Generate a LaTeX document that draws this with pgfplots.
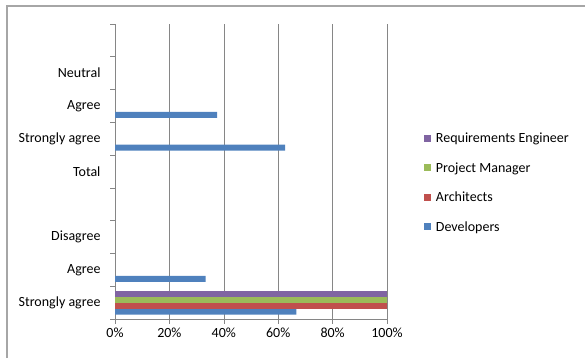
\documentclass[border=0pt]{standalone}
\usepackage{pgfplots}
\pgfplotsset{compat=1.18}
\usepackage{fontspec}
\setmainfont{Carlito}
\definecolor{devblue}{HTML}{4F81BD}
\definecolor{archred}{HTML}{C0504D}
\definecolor{pmgreen}{HTML}{9BBB59}
\definecolor{repurple}{HTML}{8064A2}
\definecolor{gridgrey}{HTML}{868686}
\definecolor{framegrey}{HTML}{A6A6A6}
\begin{document}
\begin{tikzpicture}[x=1pt,y=1pt]
\useasboundingbox (0,0) rectangle (585,358);
\draw[color=framegrey, line width=1.3pt] (7,0) -- (7,352) -- (586,352);
\begin{axis}[
  at={(115pt,39pt)}, anchor=south west,
  scale only axis, width=272pt, height=295pt,
  xmin=0, xmax=100, ymin=0.5, ymax=9.5,
  axis x line*=bottom, axis y line*=left,
  axis line style={draw=gridgrey, line width=0.6pt},
  xtick={0,20,...,100},
  xticklabel={\pgfmathprintnumber{\tick}\%},
  /pgf/number format/assume math mode=true,
  xmajorgrids=true,
  grid style={draw=gridgrey, line width=0.6pt},
  tick align=outside,
  major tick length=5pt,
  x tick style={draw=gridgrey, line width=0.6pt},
  ytick={1,...,8},
  yticklabels={Strongly agree,Agree,Disagree,{},Total,Strongly agree,Agree,Neutral},
  y tick style={draw=none},
  extra y ticks={0.5,1.5,...,9.5},
  extra y tick labels={},
  extra y tick style={y tick style={draw=gridgrey, line width=0.6pt}, ymajorgrids=false},
  tick label style={font=\fontsize{14}{16}\selectfont, text=black},
  yticklabel style={xshift=-6pt},
  xbar, bar width=6pt,
  reverse legend,
  legend style={at={(1.137,0.638)}, anchor=north west, draw=none, fill=none,
    font=\fontsize{14}{16}\selectfont, row sep=14.3pt, inner sep=0pt},
  legend cell align=left,
  legend image code/.code={\fill[#1] (1pt,-3.5pt) rectangle (8pt,3.5pt); \path (10.5pt,0pt);},
]
\addplot[draw=none, fill=devblue, bar shift=-9pt] coordinates {(66.7,1) (33.3,2) (62.5,6) (37.5,7)};
\addplot[draw=none, fill=archred, bar shift=-3pt] coordinates {(100,1)};
\addplot[draw=none, fill=pmgreen, bar shift=3pt] coordinates {(100,1)};
\addplot[draw=none, fill=repurple, bar shift=9pt] coordinates {(100,1)};
\legend{Developers,Architects,Project Manager,Requirements Engineer}
\end{axis}
\end{tikzpicture}
\end{document}
